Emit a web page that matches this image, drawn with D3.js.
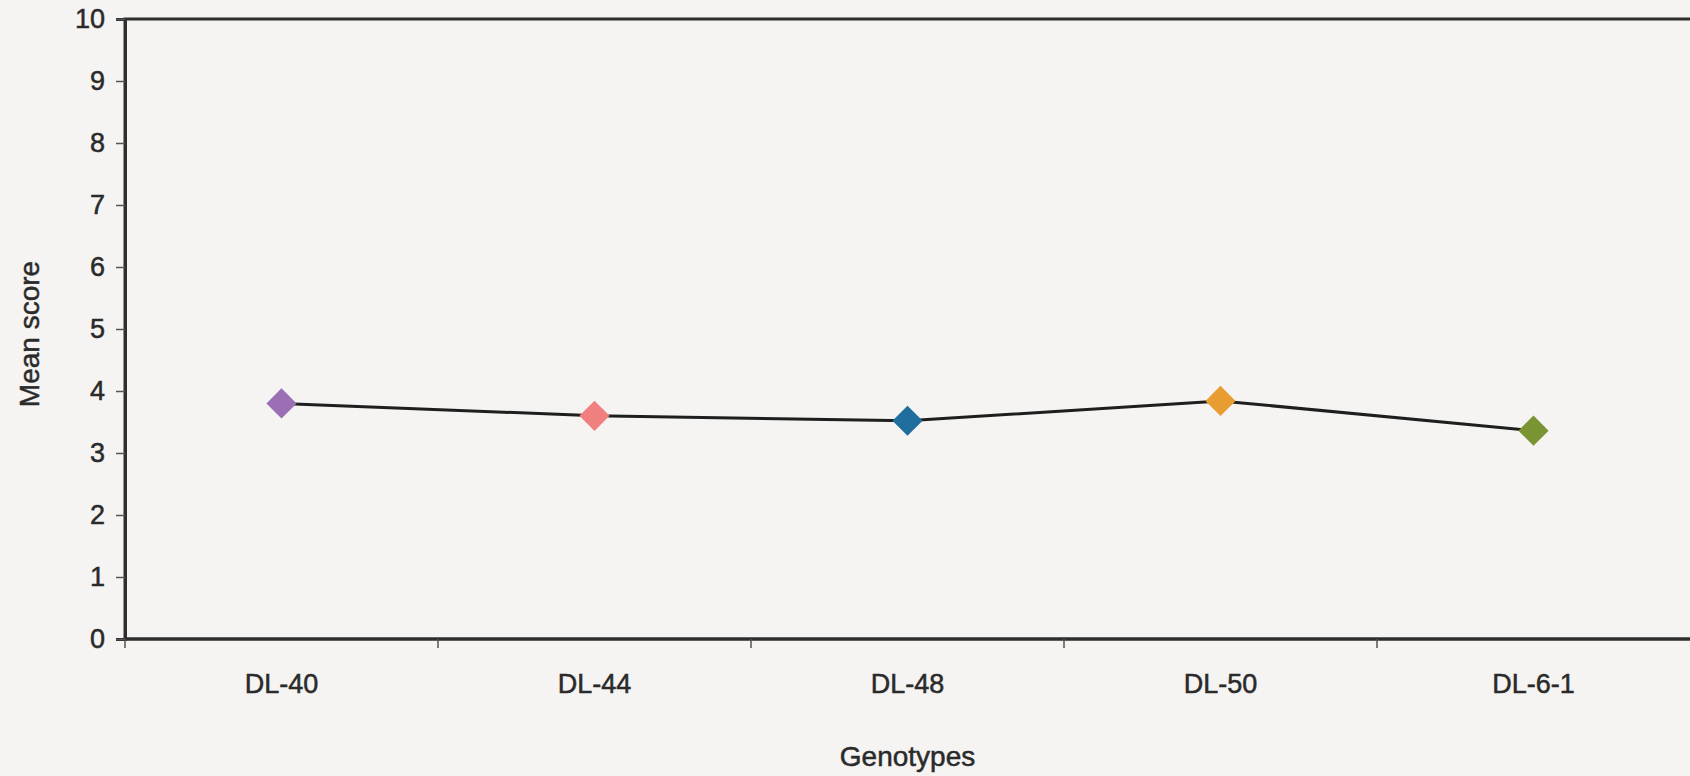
<!DOCTYPE html>
<html>
<head>
<meta charset="utf-8">
<script src="https://cdn.jsdelivr.net/npm/d3@7"></script>
<style>
  html, body { margin: 0; padding: 0; background: #f5f4f2; }
  svg { display: block; }
  text { font-family: "Liberation Sans", Arial, sans-serif; fill: #2a2a2a; stroke: #2a2a2a; stroke-width: 0.5px; }
</style>
</head>
<body>
<svg id="chart" width="1690" height="776"></svg>
<script>
// Mean score per genotype
const genotypes = ["DL-40", "DL-44", "DL-48", "DL-50", "DL-6-1"];
const meanScores = [3.8, 3.6, 3.52, 3.84, 3.36];
const markerColors = ["#9a6fb4", "#f08080", "#1f6e9e", "#e89d32", "#7a9433"];
const yTicks = [0, 1, 2, 3, 4, 5, 6, 7, 8, 9, 10];

const width = 1690, height = 776;
const margin = { top: 19, right: 0, bottom: 137, left: 125 };
const fontSize = 27;

const svg = d3.select("#chart");

const x = d3.scaleBand()
  .domain(genotypes)
  .range([margin.left, width - margin.right])
  .padding(0);

const y = d3.scaleLinear()
  .domain([0, 10])
  .range([height - margin.bottom, margin.top]);

// Plot frame (right edge runs just past the page)
svg.append("rect")
  .attr("x", margin.left)
  .attr("y", margin.top)
  .attr("width", width - margin.left + 4)
  .attr("height", y(0) - margin.top)
  .attr("fill", "none")
  .attr("stroke", "#2e2e2e")
  .attr("stroke-width", 3);

// Y axis
const yAxis = svg.append("g")
  .attr("transform", `translate(${margin.left},0)`)
  .call(d3.axisLeft(y).tickValues(yTicks).tickSize(9).tickPadding(11).tickFormat(d3.format("d")));
yAxis.select(".domain").attr("stroke", "#2e2e2e").attr("stroke-width", 3);
yAxis.selectAll(".tick line").attr("stroke", "#555").attr("stroke-width", 1.5);
yAxis.selectAll(".tick text")
  .attr("font-size", fontSize)
  .attr("fill", null)
  .style("font-family", '"Liberation Sans", Arial, sans-serif');

// X axis: ticks sit on category boundaries
const boundaries = genotypes.map(g => x(g));
const xAxisG = svg.append("g").attr("transform", `translate(0,${y(0)})`);
xAxisG.append("line")
  .attr("x1", margin.left).attr("x2", width)
  .attr("stroke", "#2e2e2e").attr("stroke-width", 3);
xAxisG.selectAll("line.tick")
  .data(boundaries)
  .join("line")
  .attr("class", "tick")
  .attr("x1", d => d).attr("x2", d => d)
  .attr("y1", 0).attr("y2", 9)
  .attr("stroke", "#555").attr("stroke-width", 1.5);
xAxisG.selectAll("text.cat")
  .data(genotypes)
  .join("text")
  .attr("class", "cat")
  .attr("x", d => x(d) + x.bandwidth() / 2)
  .attr("y", 54)
  .attr("text-anchor", "middle")
  .attr("font-size", fontSize)
  .text(d => d);

// Axis titles
svg.append("text")
  .attr("x", x(genotypes[2]) + x.bandwidth() / 2)
  .attr("y", 766)
  .attr("text-anchor", "middle")
  .attr("font-size", 28)
  .text("Genotypes");

svg.append("text")
  .attr("transform", `translate(39,${(y(0) + y(10)) / 2 + 5}) rotate(-90)`)
  .attr("text-anchor", "middle")
  .attr("font-size", 28)
  .text("Mean score");

// Series line
const points = genotypes.map((g, i) => ({ g, v: meanScores[i], c: markerColors[i] }));
const line = d3.line()
  .x(d => x(d.g) + x.bandwidth() / 2)
  .y(d => y(d.v));

svg.append("path")
  .datum(points)
  .attr("d", line)
  .attr("fill", "none")
  .attr("stroke", "#1e1e1e")
  .attr("stroke-width", 3);

// Diamond markers
const diamond = d3.symbol().type(d3.symbolDiamond2).size(580);
svg.selectAll("path.marker")
  .data(points)
  .join("path")
  .attr("class", "marker")
  .attr("transform", d => `translate(${x(d.g) + x.bandwidth() / 2},${y(d.v)})`)
  .attr("d", diamond)
  .attr("fill", d => d.c);
</script>
</body>
</html>
